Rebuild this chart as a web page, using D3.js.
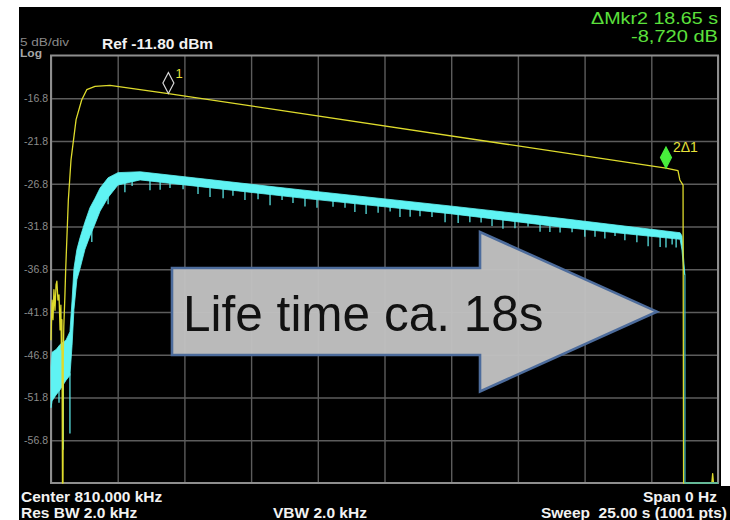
<!DOCTYPE html>
<html>
<head>
<meta charset="utf-8">
<script src="https://cdn.jsdelivr.net/npm/d3@7"></script>
<style>
  html, body { margin: 0; padding: 0; background: #fff; }
  svg { display: block; font-family: "Liberation Sans", Arial, sans-serif; }
</style>
</head>
<body>
<svg id="chart" width="730" height="520"></svg>
<script>
// time axis 0..25 s (sweep), level in dBm, 5 dB/div from ref -11.8
const xDivs = [0, 2.5, 5, 7.5, 10, 12.5, 15, 17.5, 20, 22.5, 25];
const yTicks = [-16.8, -21.8, -26.8, -31.8, -36.8, -41.8, -46.8, -51.8, -56.8];

// trace 1 (yellow)
const yellowTime  = [0, 0.04, 0.075, 0.11, 0.15, 0.19, 0.22, 0.26, 0.30, 0.34, 0.37, 0.39, 0.41, 0.43, 0.45,
                     0.46, 0.48, 0.52, 0.55, 0.65, 0.75, 0.94, 1.15, 1.34, 1.65, 2.21, 4.40, 23.05, 23.50,
                     23.57, 23.69, 23.71, 24.77, 24.80, 24.83, 25];
const yellowLevel = [-45.1, -40.4, -42.7, -39.2, -41.6, -38.6, -38.2, -40.4, -39.8, -43.9, -41.0, -46.2, -42.7, -61.8, -61.8,
                     -47.1, -43.5, -40.0, -36.9, -28.7, -24.0, -19.3, -17.0, -15.8, -15.4, -15.3, -16.25, -24.97, -25.27,
                     -26.36, -26.95, -61.8, -61.8, -60.7, -61.8, -61.8];

// trace 2 (cyan), noisy band: upper and lower edge
const cyanTime   = [0, 0.04, 0.19, 0.34, 0.56, 0.71, 0.79, 0.86, 0.97, 1.09, 1.27, 1.46, 1.65, 1.84, 2.14, 2.51,
                    3.34, 9.33, 14.96, 19.08, 23.58, 23.65, 23.72, 23.76];
const cyanTop    = [-48.2, -46.5, -46.2, -45.6, -45.1, -44.1, -40.4, -36.7, -34.5, -33.1, -31.3, -29.6, -28.5, -27.3, -26.1, -25.5,
                    -25.4, -27.5, -29.4, -30.84, -32.53, -32.9, -35.95, -37.47];
const cyanBottom = [-53.0, -52.2, -51.5, -50.9, -49.8, -49.2, -45.7, -41.5, -38.0, -36.7, -34.5, -32.9, -31.5, -30.0, -28.4, -26.95,
                    -26.35, -28.45, -30.3, -31.85, -33.3, -34.55, -37.2, -37.47];
// downward noise spikes of trace 2 (time, lowest level)
const cyanSpikes = [[0.46, -57.9], [0.71, -56.0], [0.30, -52.4], [1.53, -33.6], [2.14, -29.2],
                    [2.77, -27.8], [3.04, -27.06], [3.71, -27.55], [4.09, -27.5], [4.46, -27.3], [4.95, -27.44],
                    [5.51, -28.0], [5.96, -28.36], [6.45, -28.5], [6.82, -28.19], [7.27, -28.7], [7.76, -28.62],
                    [8.21, -29.3], [8.66, -28.69], [9.07, -29.05], [9.52, -29.45], [9.97, -29.6], [10.57, -29.5],
                    [11.02, -29.6], [11.39, -30.1], [11.81, -30.34], [12.26, -30.2], [12.71, -30.06], [13.08, -30.7],
                    [13.46, -30.65], [13.83, -30.6], [14.28, -30.7], [14.77, -31.3], [15.26, -31.38], [15.70, -31.3],
                    [16.12, -31.32], [16.53, -31.75], [16.94, -32.07], [17.39, -32.0], [17.88, -31.8], [18.33, -32.4],
                    [18.70, -32.43], [19.08, -32.5], [19.53, -32.47], [20.01, -33.0], [20.39, -33.0], [20.76, -33.2],
                    [21.14, -32.9], [21.51, -33.4], [21.96, -33.65], [22.38, -34.1], [22.83, -34.2], [23.05, -34.25],
                    [23.28, -33.9], [23.43, -34.26]];
const cyanTailTime  = [23.76, 23.76, 25];
const cyanTailLevel = [-37.47, -61.8, -61.8];

// markers
const markerTime  = [4.40, 23.05];
const markerLevel = [-16.25, -24.97];
const markerNames = ["1", "2\u03941"];

const margin = { left: 51, right: 718, top: 55.5, bottom: 483 };

const svg = d3.select("#chart");

const x = d3.scaleLinear().domain([0, 25]).range([margin.left, margin.right]);
const y = d3.scaleLinear().domain([-11.8, -61.8]).range([margin.top, margin.bottom]);
// upper edge of the cyan band at any time, used to anchor the spikes
const cyanTopAt = d3.scaleLinear().domain(cyanTime).range(cyanTop);
const cyanBottomAt = d3.scaleLinear().domain(cyanTime).range(cyanBottom);

// instrument screen background
svg.append("rect").attr("x", 19).attr("y", 7).attr("width", 702).attr("height", 513).attr("fill", "#000");
svg.append("rect").attr("x", 700).attr("y", 486).attr("width", 30).attr("height", 34).attr("fill", "#000");

// vertical grid
const gx = svg.append("g")
  .attr("transform", "translate(0," + margin.bottom + ")")
  .call(d3.axisBottom(x).tickValues(xDivs).tickSize(-(margin.bottom - margin.top)).tickFormat(""));
gx.select(".domain").remove();
gx.selectAll("line").attr("stroke", "#5c5c5c").attr("stroke-width", 1.4);

// horizontal grid + level labels
const gy = svg.append("g")
  .attr("transform", "translate(" + margin.left + ",0)")
  .call(d3.axisLeft(y).tickValues(yTicks).tickSize(-(margin.right - margin.left)).tickPadding(3)
    .tickFormat(d => d.toFixed(1)));
gy.select(".domain").remove();
gy.selectAll("line").attr("stroke", "#5c5c5c").attr("stroke-width", 1.4);
gy.selectAll("text").attr("fill", "#8c8c8c").attr("font-size", 10.5)
  .attr("font-family", "'Liberation Sans', Arial, sans-serif");

svg.append("rect")
  .attr("x", margin.left).attr("y", margin.top)
  .attr("width", margin.right - margin.left).attr("height", margin.bottom - margin.top)
  .attr("fill", "none").attr("stroke", "#8e8e8e").attr("stroke-width", 2);

svg.append("clipPath").attr("id", "plotclip")
  .append("rect")
  .attr("x", margin.left - 1).attr("y", margin.top - 1)
  .attr("width", margin.right - margin.left + 2).attr("height", margin.bottom - margin.top + 2);

const traces = svg.append("g").attr("clip-path", "url(#plotclip)");
const line = d3.line();

// cyan band
const area = d3.area()
  .x(d => x(d))
  .y0(d => y(cyanBottomAt(d)))
  .y1(d => y(cyanTopAt(d)));
traces.append("path")
  .datum(cyanTime)
  .attr("d", area)
  .style("fill", "#5ff3f3")
  .style("stroke", "#5ff3f3").style("stroke-width", 0.8);

traces.selectAll(".spike")
  .data(cyanSpikes)
  .enter().append("line")
  .attr("class", "spike")
  .attr("x1", d => x(d[0])).attr("x2", d => x(d[0]))
  .attr("y1", d => y(cyanBottomAt(d[0])) - 2).attr("y2", d => y(d[1]))
  .style("stroke", "#5ff3f3").style("stroke-width", 1.2);

// yellow trace
traces.append("path")
  .attr("d", line(yellowTime.map((t, i) => [x(t), y(yellowLevel[i])])))
  .style("fill", "none").style("stroke", "#dedb2c").style("stroke-width", 1.3)
  .style("stroke-linejoin", "round");

// cyan thin tail after the drop
traces.append("path")
  .attr("d", line(cyanTailTime.map((t, i) => [x(t), y(cyanTailLevel[i])])))
  .style("fill", "none").style("stroke", "#46b4b4").style("stroke-width", 1.3);

// markers
markerTime.forEach((t, i) => {
  const cx = x(t), cy = y(markerLevel[i]);
  svg.append("path")
    .attr("d", "M" + cx + "," + cy + " L" + (cx + 5.5) + "," + (cy - 10.5) + " L" + cx + "," + (cy - 21) +
      " L" + (cx - 5.5) + "," + (cy - 10.5) + " Z")
    .style("fill", i == 0 ? "none" : "#48ee3c")
    .style("stroke", i == 0 ? "#d8d8d8" : "#48ee3c").style("stroke-width", 1.2);
  svg.append("text")
    .attr("x", cx + 7).attr("y", cy - 16)
    .attr("fill", "#e6e23a").attr("font-size", i == 0 ? 13 : 14)
    .text(markerNames[i]);
});

// annotation arrow (in data coords)
const arrowPts = [[4.535, -36.65], [16.08, -36.65], [16.08, -32.44], [22.71, -41.76],
                  [16.08, -51.1], [16.08, -46.83], [4.535, -46.83]];
svg.append("path")
  .attr("d", line(arrowPts.map(p => [x(p[0]), y(p[1])])) + "Z")
  .style("fill", "#c2c2c2").style("fill-opacity", 0.96)
  .style("stroke", "#4d6c9c").style("stroke-width", 2.6).style("stroke-linejoin", "miter");
svg.append("text")
  .attr("x", x(4.95)).attr("y", y(-44.0))
  .attr("font-size", 49.5).attr("fill", "#111")
  .text("Life time ca. 18s");

// header texts
svg.append("text").attr("x", 20).attr("y", 45.5).attr("font-size", 10).attr("fill", "#8a8a8a")
  .attr("textLength", 49).attr("lengthAdjust", "spacingAndGlyphs").text("5 dB/div");
svg.append("text").attr("x", 20).attr("y", 57).attr("font-size", 10).attr("font-weight", "bold")
  .attr("fill", "#a8a8a8").attr("textLength", 22).attr("lengthAdjust", "spacingAndGlyphs").text("Log");
svg.append("text").attr("x", 102).attr("y", 49).attr("font-size", 15.5).attr("font-weight", "bold")
  .attr("fill", "#f2f2f2").text("Ref -11.80 dBm");
svg.append("text").attr("x", 718).attr("y", 24).attr("font-size", 16).attr("text-anchor", "end")
  .attr("fill", "#5ce03c").attr("textLength", 127).attr("lengthAdjust", "spacingAndGlyphs")
  .text("\u0394Mkr2 18.65 s");
svg.append("text").attr("x", 718).attr("y", 42).attr("font-size", 16).attr("text-anchor", "end")
  .attr("fill", "#5ce03c").attr("textLength", 87).attr("lengthAdjust", "spacingAndGlyphs")
  .text("-8,720 dB");

// footer texts
const footer = [
  { t: "Center 810.000 kHz", x: 21, y: 502, a: "start" },
  { t: "Res BW 2.0 kHz", x: 21, y: 518, a: "start" },
  { t: "VBW 2.0 kHz", x: 273, y: 518, a: "start" },
  { t: "Span 0 Hz", x: 717, y: 502, a: "end" },
  { t: "Sweep  25.00 s (1001 pts)", x: 727, y: 518, a: "end" }
];
svg.selectAll(".foot").data(footer).enter().append("text")
  .attr("class", "foot")
  .attr("x", d => d.x).attr("y", d => d.y)
  .attr("text-anchor", d => d.a)
  .attr("font-size", 15.5).attr("font-weight", "bold").attr("fill", "#f2f2f2")
  .style("white-space", "pre")
  .text(d => d.t);
</script>
</body>
</html>
